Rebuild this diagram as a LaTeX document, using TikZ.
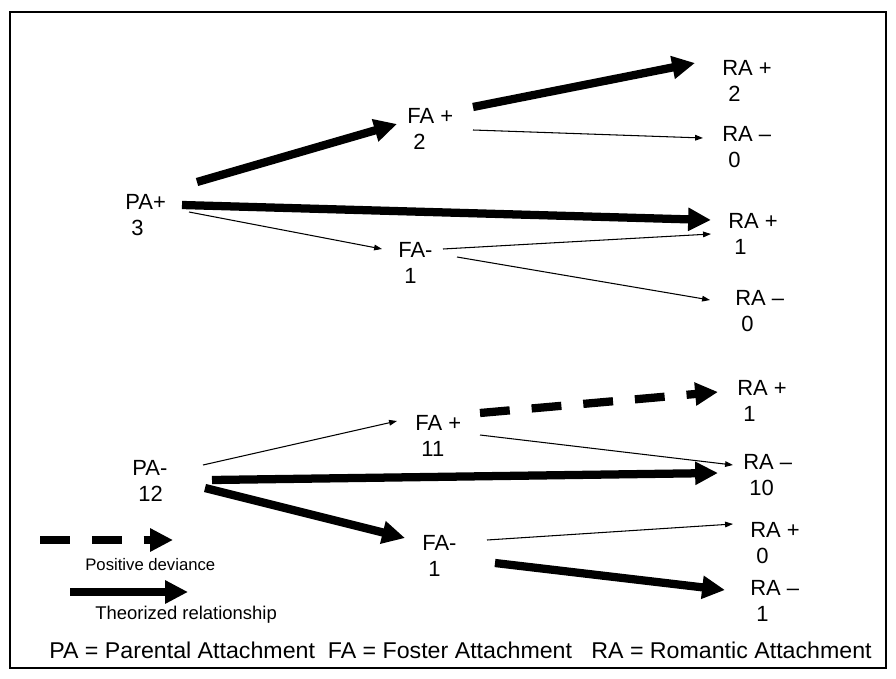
\documentclass[tikz,border=0pt]{standalone}
\usepackage{graphicx}
\usepackage{fontspec}
\setmainfont{Liberation Sans}
\usetikzlibrary{arrows.meta}
\begin{document}
\begin{tikzpicture}[x=0.02cm,y=-0.02cm,
  lbl/.style={anchor=north west,inner sep=0pt,align=left,font=\fontsize{12.5}{15}\selectfont},
  keytext/.style={anchor=north west,inner sep=0pt},
  theory/.style={line width=4.7pt,-{Triangle[length=13pt,width=12.5pt]}},
  weak/.style={line width=0.6pt,-{Triangle[length=4.5pt,width=3.2pt]}},
  deviance/.style={theory,dash pattern=on 17pt off 12.5pt}]
\useasboundingbox (0,0) rectangle (896,679);
\draw[line width=0.8pt] (10,12) rectangle (886,668);
% attachment groups
\node[lbl] (PA1) at (125,194) {PA+\\\ 3};
\node[lbl] (FA1) at (407,108) {FA +\\\ 2};
\node[lbl] (FA2) at (398,242) {FA-\\\ 1};
\node[lbl] (RA1) at (722,60) {RA +\\\ 2};
\node[lbl] (RA2) at (722,126) {RA –\\\ 0};
\node[lbl] (RA3) at (728,213) {RA +\\\ 1};
\node[lbl] (RA4) at (735,290) {RA –\\\ 0};
\node[lbl] (PA2) at (132,460) {PA-\\\ 12};
\node[lbl] (FA3) at (415,415) {FA +\\\ 11};
\node[lbl] (FA4) at (422,535) {FA-\\\ 1};
\node[lbl] (RA5) at (737,380) {RA +\\\ 1};
\node[lbl] (RA6) at (743,454) {RA –\\\ 10};
\node[lbl] (RA7) at (750,522) {RA +\\\ 0};
\node[lbl] (RA8) at (750,580) {RA –\\\ 1};
% upper tree
\draw[theory] ([shift={(72,-12)}]PA1.north west) -- ([shift={(-10,16)}]FA1.north west);
\draw[theory] ([shift={(66,-1)}]FA1.north west) -- ([shift={(-27,3)}]RA1.north west);
\draw[weak] ([shift={(66,22)}]FA1.north west) -- ([shift={(-19,12)}]RA2.north west);
\draw[theory] ([shift={(57,11)}]PA1.north west) -- ([shift={(-17,7)}]RA3.north west);
\draw[weak] ([shift={(64,18)}]PA1.north west) -- ([shift={(-16,7)}]FA2.north west);
\draw[weak] ([shift={(45,7)}]FA2.north west) -- ([shift={(-17,21)}]RA3.north west);
\draw[weak] ([shift={(59,15)}]FA2.north west) -- ([shift={(-25,10)}]RA4.north west);
% lower tree
\draw[deviance] ([shift={(65,-2)}]FA3.north west) -- ([shift={(-19,12)}]RA5.north west);
\draw[weak] ([shift={(65,20)}]FA3.north west) -- ([shift={(-10,11)}]RA6.north west);
\draw[weak] ([shift={(71,5)}]PA2.north west) -- ([shift={(-18,6)}]FA3.north west);
\draw[theory] ([shift={(80,20)}]PA2.north west) -- ([shift={(-25,19)}]RA6.north west);
\draw[theory] ([shift={(73,28)}]PA2.north west) -- ([shift={(-17,3)}]FA4.north west);
\draw[weak] ([shift={(65,5)}]FA4.north west) -- ([shift={(-17,2)}]RA7.north west);
\draw[theory] ([shift={(73,28)}]FA4.north west) -- ([shift={(-25,10)}]RA8.north west);
% legend
\coordinate (dev1) at (40,540);
\coordinate (dev2) at (173,540);
\coordinate (theo1) at (70,592);
\coordinate (theo2) at (188,592);
\draw[deviance] (dev1) -- (dev2);
\node[keytext,font=\fontsize{9.5}{11}\selectfont] (devtext) at (85,558) {Positive deviance};
\draw[theory] (theo1) -- (theo2);
\node[keytext,font=\fontsize{10.5}{12}\selectfont] (theotext) at (95,606) {Theorized relationship};
\node[keytext,font=\fontsize{13}{15}\selectfont] (note) at (49,642)
  {\scalebox{1.015}[1]{PA = Parental Attachment~~FA = Foster Attachment~~~RA = Romantic Attachment}};
\end{tikzpicture}
\end{document}
